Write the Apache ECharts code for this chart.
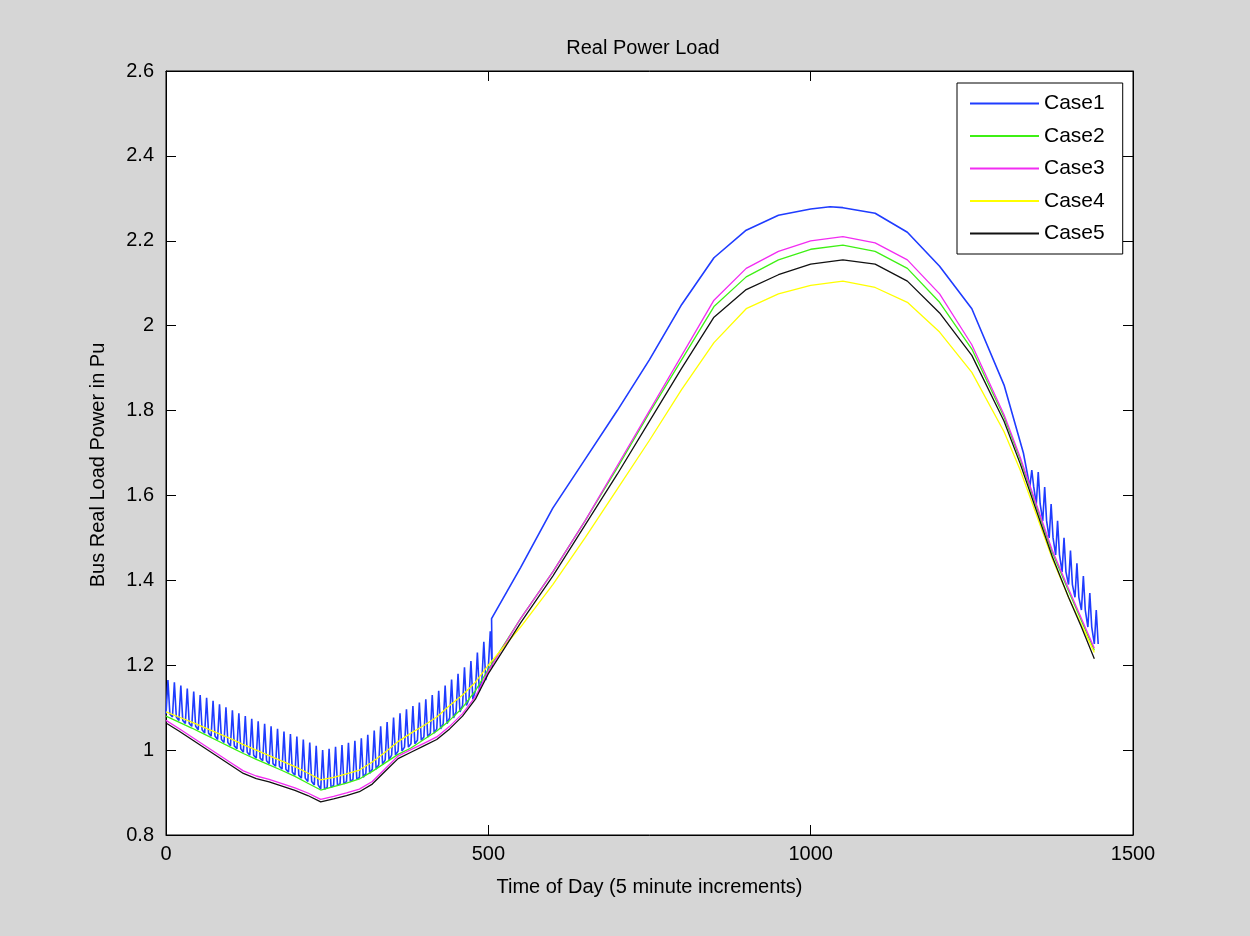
<!DOCTYPE html>
<html>
<head>
<meta charset="utf-8">
<script src="https://cdn.jsdelivr.net/npm/echarts@6/dist/echarts.min.js"></script>
<style>
html,body{margin:0;padding:0;background:#d6d6d6;}
#chart{width:1250px;height:936px;}
</style>
</head>
<body>
<div id="chart"></div>
<script>
// ---- data ----
const title = 'Real Power Load';
const xName = 'Time of Day (5 minute increments)';
const yName = 'Bus Real Load Power in Pu';
const seriesNames = ['Case1', 'Case2', 'Case3', 'Case4', 'Case5'];
const xTicks = [0, 500, 1000, 1500];
const yTicks = [0.8, 1, 1.2, 1.4, 1.6, 1.8, 2, 2.2, 2.4, 2.6];

// shared x positions for Case2..Case5
const xs = [0,20,40,60,80,100,120,140,160,180,200,220,240,260,280,300,320,340,360,380,400,420,440,460,480,500,
  550,600,650,700,750,800,850,900,950,1000,1050,1100,1150,1200,1250,1300,1325,1350,1375,1400,1420,1440];

const case2 = [1.080,1.066,1.052,1.037,1.022,1.007,0.992,0.978,0.965,0.952,0.938,0.922,0.906,0.914,0.922,0.932,0.950,0.970,0.990,1.005,1.025,1.045,1.070,1.100,1.140,1.190,
  1.310,1.420,1.540,1.665,1.795,1.920,2.045,2.115,2.155,2.180,2.190,2.175,2.135,2.055,1.945,1.785,1.685,1.575,1.465,1.375,1.305,1.235];
const case3 = [1.070,1.051,1.031,1.011,0.991,0.971,0.951,0.939,0.931,0.921,0.911,0.899,0.884,0.891,0.899,0.908,0.926,0.956,0.986,1.001,1.016,1.031,1.056,1.086,1.126,1.186,
  1.310,1.420,1.540,1.670,1.800,1.930,2.060,2.135,2.175,2.200,2.210,2.195,2.155,2.075,1.955,1.790,1.690,1.580,1.470,1.380,1.310,1.240];
const case4 = [1.090,1.078,1.066,1.053,1.040,1.027,1.013,1.000,0.987,0.974,0.961,0.946,0.930,0.936,0.944,0.953,0.972,0.995,1.020,1.040,1.058,1.078,1.105,1.130,1.160,1.200,
  1.290,1.390,1.500,1.615,1.730,1.850,1.960,2.040,2.075,2.095,2.105,2.090,2.055,1.985,1.890,1.750,1.660,1.555,1.450,1.360,1.295,1.230];
const case5 = [1.064,1.045,1.025,1.005,0.985,0.965,0.945,0.933,0.925,0.915,0.905,0.893,0.878,0.885,0.893,0.902,0.920,0.950,0.980,0.995,1.010,1.025,1.050,1.080,1.120,1.180,
  1.300,1.410,1.530,1.650,1.775,1.900,2.020,2.085,2.120,2.145,2.155,2.145,2.105,2.030,1.930,1.775,1.675,1.565,1.455,1.360,1.290,1.215];

// Case1: oscillating morning section (tooth troughs / peaks)
const c1MorningX = [0,10,20,30,40,50,60,70,80,90,100,110,120,130,140,150,160,170,180,190,200,210,220,230,240,250,
  260,270,280,290,300,310,320,330,340,350,360,370,380,390,400,410,420,430,440,450,460,470,480,490,500];
const c1MorningLow = [1.085,1.078,1.070,1.063,1.056,1.048,1.040,1.033,1.025,1.018,1.010,1.003,0.995,0.988,0.981,0.975,0.968,0.962,0.955,0.948,0.941,0.934,0.926,0.918,0.908,0.912,
  0.917,0.921,0.926,0.931,0.936,0.945,0.955,0.966,0.977,0.988,0.998,1.007,1.015,1.023,1.031,1.040,1.050,1.062,1.076,1.090,1.105,1.120,1.140,1.165,1.195];
const c1MorningHigh = [1.165,1.160,1.152,1.145,1.138,1.130,1.123,1.116,1.108,1.101,1.094,1.087,1.080,1.074,1.068,1.062,1.056,1.050,1.044,1.038,1.032,1.025,1.018,1.010,1.000,1.003,
  1.008,1.012,1.017,1.022,1.028,1.036,1.046,1.056,1.066,1.077,1.087,1.096,1.104,1.112,1.120,1.130,1.140,1.152,1.166,1.180,1.195,1.210,1.230,1.255,1.280];
// Case1: smooth daytime section
const c1DayX = [505,550,600,650,700,750,800,850,900,950,1000,1030,1050,1100,1150,1200,1250,1300,1330];
const c1DayY = [1.310,1.430,1.570,1.685,1.800,1.920,2.050,2.160,2.225,2.260,2.275,2.280,2.278,2.265,2.220,2.140,2.040,1.860,1.700];
// Case1: oscillating evening section
const c1EveningX = [1340,1350,1360,1370,1380,1390,1400,1410,1420,1430,1440];
const c1EveningLow = [1.620,1.580,1.540,1.500,1.460,1.420,1.390,1.360,1.330,1.290,1.250];
const c1EveningHigh = [1.660,1.655,1.620,1.580,1.540,1.500,1.470,1.440,1.410,1.370,1.330];

const SPIKE = 3; // half-width of each oscillation tooth in x units

// ---- build series data ----
function pairs(x, y) { return x.map((v, i) => [v, y[i]]); }
function teeth(x, lo, hi) {
  const out = [];
  x.forEach((v, i) => {
    out.push([v, lo[i]]);
    out.push([v + SPIKE, hi[i]]);
    out.push([v + 2 * SPIKE, lo[i]]);
  });
  return out;
}
const case1 = [].concat(
  teeth(c1MorningX, c1MorningLow, c1MorningHigh),
  pairs(c1DayX, c1DayY),
  teeth(c1EveningX, c1EveningLow, c1EveningHigh)
);

const colors = ['#1f3cff', '#3ef014', '#f22cf2', '#ffff00', '#111111'];
const widths = [1.6, 1.3, 1.3, 1.3, 1.3];
const dataSets = [case1, pairs(xs, case2), pairs(xs, case3), pairs(xs, case4), pairs(xs, case5)];

const FONT = 'Liberation Sans';
const chart = echarts.init(document.getElementById('chart'), null, {renderer: 'canvas'});

const baseX = {
  type: 'value', min: xTicks[0], max: xTicks[xTicks.length - 1], interval: 500,
  splitLine: {show: false},
  axisLine: {show: true, onZero: false, lineStyle: {color: '#000', width: 1}},
  axisTick: {show: true, inside: true, length: 10, lineStyle: {color: '#000'}},
};
const baseY = {
  type: 'value', min: yTicks[0], max: yTicks[yTicks.length - 1], interval: 0.2,
  splitLine: {show: false},
  axisLine: {show: true, onZero: false, lineStyle: {color: '#000', width: 1}},
  axisTick: {show: true, inside: true, length: 10, lineStyle: {color: '#000'}},
};

chart.setOption({
  animation: false,
  backgroundColor: '#d6d6d6',
  title: {
    text: title, left: 638, top: 33, textAlign: 'center',
    textStyle: {fontFamily: FONT, fontSize: 20, fontWeight: 'normal', color: '#000'}
  },
  grid: {left: 166, right: 117, top: 71, bottom: 101, show: true, backgroundColor: '#ffffff', borderColor: '#000', borderWidth: 1},
  legend: {
    orient: 'vertical', left: 957, top: 83,
    data: seriesNames.map(n => ({name: n, icon: 'rect'})),
    backgroundColor: '#ffffff', borderColor: '#000', borderWidth: 1,
    padding: [10, 18, 10, 13],
    itemWidth: 69, itemHeight: 2, itemGap: 11.5,
    textStyle: {fontFamily: FONT, fontSize: 21, color: '#000', lineHeight: 20}
  },
  xAxis: [
    Object.assign({}, baseX, {
      position: 'bottom',
      name: xName, nameLocation: 'middle', nameGap: 42,
      nameTextStyle: {fontFamily: FONT, fontSize: 20, color: '#000'},
      axisLabel: {fontFamily: FONT, fontSize: 20, color: '#000', margin: 9, formatter: v => String(v)}
    }),
    Object.assign({}, baseX, {position: 'top', axisLabel: {show: false}})
  ],
  yAxis: [
    Object.assign({}, baseY, {
      position: 'left',
      name: yName, nameLocation: 'middle', nameGap: 58,
      nameTextStyle: {fontFamily: FONT, fontSize: 20, color: '#000', padding: [0, 24, 0, 0]},
      axisLabel: {fontFamily: FONT, fontSize: 20, color: '#000', margin: 12}
    }),
    Object.assign({}, baseY, {position: 'right', axisLabel: {show: false}})
  ],
  series: seriesNames.map((n, i) => ({
    name: n, type: 'line', xAxisIndex: 0, yAxisIndex: 0,
    data: dataSets[i], symbol: 'none', showSymbol: false,
    lineStyle: {color: colors[i], width: widths[i]},
    itemStyle: {color: colors[i]},
    emphasis: {disabled: true}
  }))
});
</script>
</body>
</html>
